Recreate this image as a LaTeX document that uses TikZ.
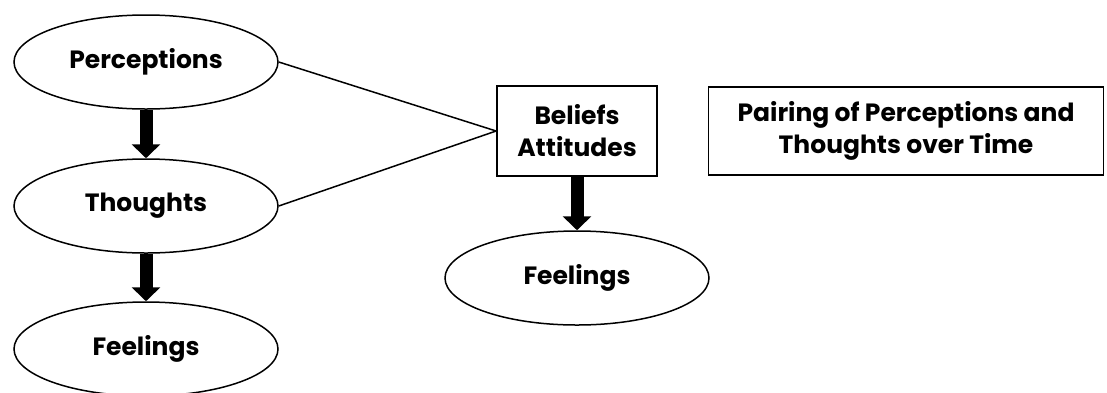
\documentclass[tikz,border=0pt]{standalone}
\usepackage{fontspec}
\setmainfont{Poppins}
\usetikzlibrary{shapes.geometric,arrows.meta}

\begin{document}
\begin{tikzpicture}[x=0.5pt,y=-0.5pt,
		font=\fontsize{12.5}{16}\selectfont\bfseries,
		oval/.style={draw,ellipse,line width=0.75pt,minimum width=132pt,minimum height=47pt,inner sep=0pt},
		box/.style={draw,rectangle,line width=0.9pt,align=center,inner sep=0pt},
		fat/.style={line width=6.5pt,-{Triangle[width=14pt,length=7pt]}},
		link/.style={line width=0.75pt}]
		\useasboundingbox (0,0) rectangle (1107,392);

		\node[oval] (perc) at (146,62) {Perceptions};
		\node[oval] (thou) at (146,206) {Thoughts};
		\node[oval] (feel1) at (146,349) {Feelings};

		\node[box,minimum width=80pt,minimum height=45pt] (belief) at (577,131) {Beliefs\\Attitudes};
		\node[oval] (feel2) at (577,278) {Feelings};
		\node[box,minimum width=197.5pt,minimum height=44pt] (pair) at (906,131)
		{Pairing of Perceptions and\\Thoughts over Time};

		\draw[fat] (perc) -- (thou);
		\draw[fat] (thou) -- (feel1);
		\draw[fat] (belief) -- (feel2);

		\foreach \n in {perc,thou} {
				\draw[link] (\n.east) -- (belief.west);
			}
	\end{tikzpicture}
\end{document}
